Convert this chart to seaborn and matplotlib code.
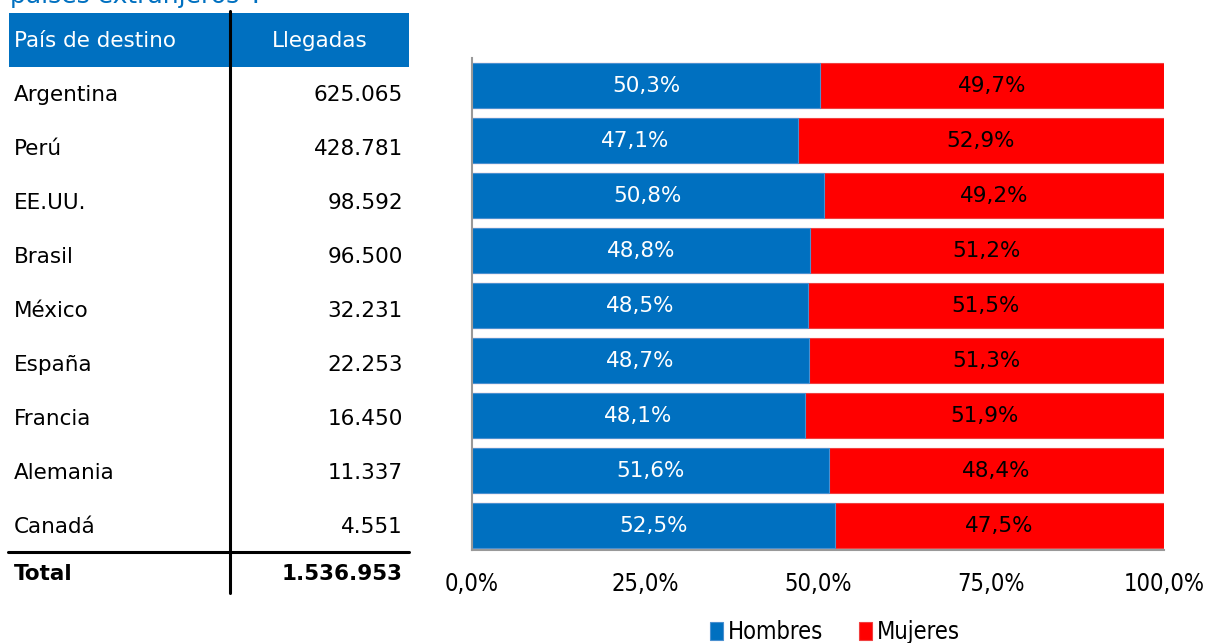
import numpy as np
import pandas as pd
import matplotlib

matplotlib.use('Agg')
import matplotlib.pyplot as plt
from matplotlib.lines import Line2D
from matplotlib.patches import Rectangle
import seaborn as sns

paises = ["Argentina", "Perú", "EE.UU.", "Brasil", "México", "España",
          "Francia", "Alemania", "Canadá"]
llegadas = [625065, 428781, 98592, 96500, 32231, 22253, 16450, 11337, 4551]
total_llegadas = 1536953
hombres = [50.3, 47.1, 50.8, 48.8, 48.5, 48.7, 48.1, 51.6, 52.5]
mujeres = [49.7, 52.9, 49.2, 51.2, 51.5, 51.3, 51.9, 48.4, 47.5]
ticks = [0, 25, 50, 75, 100]

BLUE = "#0070C0"
RED = "#FF0000"

W, H = 1208, 643
sns.set_style("white")
plt.rcParams['font.family'] = ['DejaVu Sans']
plt.rcParams['text.color'] = 'black'
plt.rcParams['xtick.labelcolor'] = 'black'

fig = plt.figure(figsize=(W / 100, H / 100), dpi=100)


def fx(px):
    return px / W


def fy(py):
    return 1 - py / H


def fmt_pct(v):
    return f"{v:.1f}%".replace('.', ',')


def fmt_num(n):
    return f"{n:,}".replace(',', '.')


# chart
ax = fig.add_axes([fx(472), fy(550), fx(1164) - fx(472), fy(58) - fy(550)])
df = pd.DataFrame({"pais": paises, "hombres": hombres, "mujeres": mujeres})
df["total"] = df["hombres"] + df["mujeres"]

sns.barplot(data=df, y="pais", x="total", color=RED, orient="h", width=0.82,
            ax=ax, label="Mujeres", edgecolor="#f04040", linewidth=0.8,
            saturation=1)
sns.barplot(data=df, y="pais", x="hombres", color=BLUE, orient="h", width=0.82,
            ax=ax, label="Hombres", edgecolor="#4a90d0", linewidth=0.8,
            saturation=1)

for i in range(len(paises)):
    ax.text(hombres[i] / 2, i, fmt_pct(hombres[i]), color="white",
            ha="center", va="center", fontsize=15.5)
    ax.text(hombres[i] + mujeres[i] / 2, i, fmt_pct(mujeres[i]), color="black",
            ha="center", va="center", fontsize=15.5)

ax.set_xlim(0, 100)
ax.set_ylim(8.445, -0.5)
ax.set_xticks(ticks)
ax.set_xticklabels([fmt_pct(t) for t in ticks], fontsize=17,
                   fontstretch="condensed")
ax.set_yticks([])
ax.set_xlabel("")
ax.set_ylabel("")
for s in ["top", "right"]:
    ax.spines[s].set_visible(False)
for s in ["left", "bottom"]:
    ax.spines[s].set_color("#999999")
    ax.spines[s].set_linewidth(1.5)
ax.tick_params(axis="x", direction="in", length=7, width=1.2, color="#999999",
               pad=16)

handles, labels = ax.get_legend_handles_labels()
if ax.get_legend() is not None:
    ax.get_legend().remove()
order = [labels.index("Hombres"), labels.index("Mujeres")]
fig.legend([handles[k] for k in order], [labels[k] for k in order],
           loc="lower center", bbox_to_anchor=(fx(835), -0.035), ncol=2,
           frameon=False, handlelength=0.55, handleheight=0.8,
           handletextpad=0.2, columnspacing=1.5,
           prop={"size": 17, "stretch": "condensed"})

# table on the left
fig.text(fx(10), fy(3), "países extranjeros*:", color=BLUE, fontsize=18,
         ha="left", va="baseline")
fig.add_artist(Rectangle((fx(9), fy(67)), fx(409) - fx(9), fy(13) - fy(67),
                         transform=fig.transFigure, color=BLUE, lw=0))
fig.text(fx(14), fy(41), "País de destino", color="white", fontsize=15.5,
         ha="left", va="center")
fig.text(fx(320), fy(41), "Llegadas", color="white", fontsize=15.5,
         ha="center", va="center")

for i, (p, n) in enumerate(zip(paises, llegadas)):
    y = fy(95 + i * 54)
    fig.text(fx(14), y, p, fontsize=15.5, ha="left", va="center")
    fig.text(fx(403), y, fmt_num(n), fontsize=15.5, ha="right", va="center")

fig.text(fx(14), fy(574), "Total", fontsize=15.5, fontweight="bold",
         ha="left", va="center")
fig.text(fx(403), fy(574), fmt_num(total_llegadas), fontsize=15.5,
         fontweight="bold", ha="right", va="center")

fig.add_artist(Line2D([fx(230), fx(230)], [fy(11), fy(593)], color="black",
                      lw=2.2, transform=fig.transFigure))
fig.add_artist(Line2D([fx(8), fx(409)], [fy(552), fy(552)], color="black",
                      lw=2.2, transform=fig.transFigure))

fig.savefig("out.png", dpi=100)
